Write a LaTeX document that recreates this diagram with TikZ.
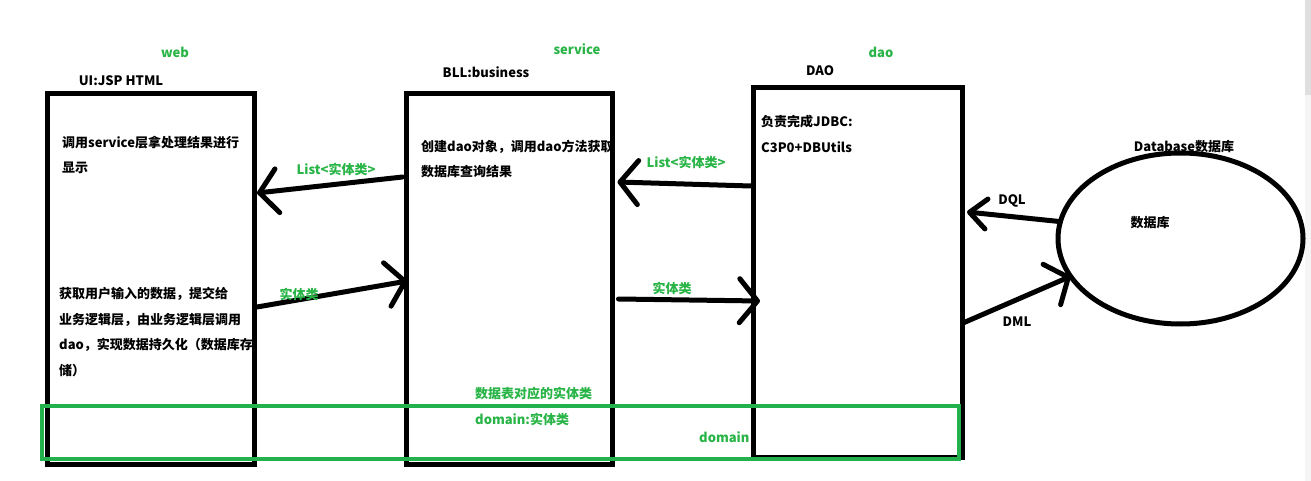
\documentclass[tikz,border=0pt]{standalone}
\usepackage{fontspec}
\setmainfont{Noto Sans CJK SC}
\usetikzlibrary{arrows.meta,shapes.geometric}
\definecolor{pgreen}{RGB}{34,177,76}
\definecolor{tgreen}{RGB}{40,180,70}
\tikzset{
  layerbox/.style={draw=black, line width=5pt, rectangle, inner sep=0pt, outer sep=0pt},
  arr/.style={draw=black, line width=5pt, line cap=round,
    -{Straight Barb[length=18pt,width=44pt,line width=5pt,round]}},
  smallarr/.style={draw=black, line width=5pt, line cap=round,
    -{Straight Barb[length=17pt,width=30pt,line width=5pt,round]}},
  txt/.style={inner sep=0pt, anchor=west, font=\fontsize{13}{15}\selectfont\bfseries},
  gtxt/.style={txt, text=tgreen},
  ctxt/.style={inner sep=0pt, anchor=center, font=\fontsize{13}{15}\selectfont\bfseries},
  gctxt/.style={ctxt, text=tgreen}
}
\begin{document}
\begin{tikzpicture}[x=1pt,y=-1pt]
\fill[white] (0,0) rectangle (1311,481);
\useasboundingbox (0,0) rectangle (1311,481);
\fill[gray!8] (1305,0) rectangle (1311,481);
\fill[gray!25] (1305,0) rectangle (1311,95);

% boxes
\node[layerbox, minimum width=207pt, minimum height=370pt] (web) at (150.5,279) {};
\node[layerbox, minimum width=206pt, minimum height=370pt] (svc) at (509.5,279) {};
\node[layerbox, minimum width=209pt, minimum height=369pt] (dao) at (857.5,272.5) {};
\node[draw=black, line width=5pt, ellipse, inner sep=0pt, outer sep=0pt,
      minimum width=245pt, minimum height=171pt] (db) at (1180.5,238.5) {};

% green domain rectangle
\node[draw=pgreen, line width=4.5pt, rectangle, inner sep=0pt, outer sep=0pt,
      minimum width=917pt, minimum height=53pt] (dom) at (500.5,432.5) {};

% titles
\node[gctxt] (tweb) at (175,52) {web};
\node[ctxt] (tui) at (121,81) {UI:JSP HTML};
\node[gctxt] (tsvc) at (577,49) {service};
\node[ctxt] (tbll) at (486,72) {BLL:business};
\node[gctxt] (tdao) at (881,52) {dao};
\node[ctxt] (tDAO) at (820,71) {DAO};
\node[ctxt] (tdb) at (1184,147) {Database数据库};
\node[ctxt] (tdb2) at (1150,223) {数据库};

% box texts
\node[txt] (w1) at (62,143) {调用service层拿处理结果进行};
\node[txt] (w2) at (62,168) {显示};
\node[txt] (w3) at (59,294) {获取用户输入的数据，提交给};
\node[txt] (w4) at (59,320) {业务逻辑层，由业务逻辑层调用};
\node[txt] (w5) at (59,345) {dao，实现数据持久化（数据库存};
\node[txt] (w6) at (59,371) {储）};
\node[txt] (s1) at (421,147) {创建dao对象，调用dao方法获取};
\node[txt] (s2) at (421,172) {数据库查询结果};
\node[txt] (d1) at (761,122) {负责完成JDBC:};
\node[txt] (d2) at (761,147) {C3P0+DBUtils};

% green texts
\node[gtxt] (g1) at (475,394) {数据表对应的实体类};
\node[gtxt] (g2) at (475,419) {domain:实体类};
\node[gtxt] (g3) at (699,437) {domain};

% arrows
\draw[arr] ([xshift=-4pt]svc.west |- 0,177) -- ([xshift=3pt]web.east |- 0,193);
\node[gctxt] (l1) at (336,169) {List<实体类>};
\draw[arr] ([xshift=-2pt]dao.west |- 0,186) -- ([xshift=5pt]svc.east |- 0,182);
\node[gctxt] (l2) at (686,162) {List<实体类>};
\draw[arr] ([xshift=3pt]web.east |- 0,307) -- ([xshift=1pt]svc.west |- 0,281);
\node[gctxt] (l3) at (299,294) {实体类};
\draw[arr] ([xshift=6pt]svc.east |- 0,299) -- ([xshift=7pt]dao.west |- 0,301);
\node[gctxt] (l4) at (672,288) {实体类};
\draw[smallarr] (db.172) -- ([xshift=5pt]dao.east |- 0,212);
\node[ctxt] (l5) at (1012,201) {DQL};
\draw[arr] ([xshift=1pt]dao.east |- 0,323) -- (db.199);
\node[ctxt] (l6) at (1017,322) {DML};
\end{tikzpicture}
\end{document}
